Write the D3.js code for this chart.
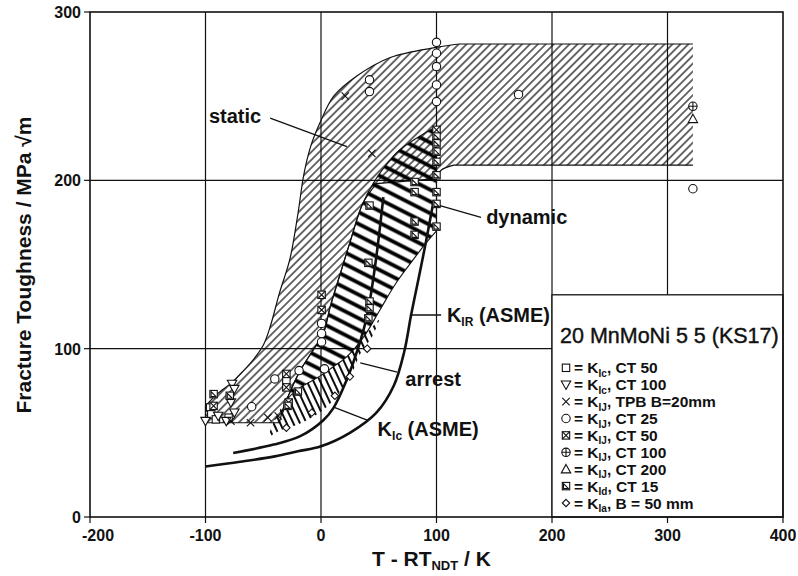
<!DOCTYPE html>
<html>
<head>
<meta charset="utf-8">
<title>20 MnMoNi 5 5 (KS17)</title>
<script src="https://cdn.jsdelivr.net/npm/d3@7"></script>
<style>
  body { margin: 0; background: #fff; }
  svg { font-family: 'Liberation Sans', Arial, Helvetica, sans-serif; }
  .grid { stroke: #111; stroke-width: 1.2; }
  .tick-label { font-size: 16px; font-weight: bold; fill: #111; }
  .ann { font-size: 20px; font-weight: bold; fill: #111; }
  .leader { stroke: #111; stroke-width: 1.3; }
  .mk { fill: #fff; stroke: #111; stroke-width: 1.1; }
  .kcurve { fill: none; stroke: #111; stroke-width: 2.6; }
  .edge { fill: none; stroke: #111; stroke-width: 1.2; }
</style>
</head>
<body>
<svg id="chart" width="798" height="576"></svg>
<script>
// axes
const xTicks = [-200, -100, 0, 100, 200, 300, 400];
const yTicks = [0, 100, 200, 300];

// static scatter band (T - RTndt, K)
const staticUpper = [[-100, 66], [-90, 73], [-77, 80], [-67, 87], [-58, 94], [-50, 102], [-44, 113],
  [-36, 133], [-27, 153], [-20, 180], [-15, 203], [-9, 220], [-1, 234], [11, 250], [31, 262], [60, 273],
  [100, 279], [120, 281]];
const staticTop = [[120, 281], [322, 281]];
const staticEnd = [[322, 281], [322, 209]];
const staticBottom = [[322, 209], [115, 209]];
const staticKnee = [[115, 209], [104, 206], [100, 201]];
const staticInner = [[48, 198], [36, 186], [25, 163], [16, 143], [8, 125], [2, 109], [-7, 99], [-18, 87],
  [-27, 74], [-33, 64], [-36, 56]];
const staticBase = [[-36, 56], [-100, 56]];

// dynamic band
const dynLeft = [[-33, 62], [-27, 74], [-18, 87], [-7, 99], [2, 109], [8, 125], [16, 143], [25, 163], [36, 186],
  [45, 198], [55, 208], [68, 218], [85, 226], [100, 232]];
const dynRight = [[100, 170], [90, 162], [80, 153], [65, 139], [51, 123], [37, 107], [22, 95],
  [10, 89], [2, 85], [-10, 80], [-18, 77], [-30, 69], [-33, 62]];

// arrest band
const arrestInner = [[51, 118], [37, 107], [22, 95], [10, 89], [2, 85], [-10, 80], [-18, 77], [-30, 69], [-40, 58], [-46, 47]];
const arrestOuter = [[-46, 47], [-35, 51.5], [-20, 55], [-7, 59.5], [8, 67.5], [25, 83], [34, 97], [45, 108], [51, 118]];

// ASME reference curves
const kirCurve = [[-100, 30], [-70, 32.8], [-40, 36], [-20, 39], [0, 42], [25, 50], [48, 62], [63, 78], [72, 98],
  [78, 120], [84, 140], [91, 164], [97, 186]];
const kicCurve = [[-76, 38], [-41, 43], [-18, 48], [2, 57.5], [11, 65], [22, 81], [32, 100], [40, 120], [47, 150], [54, 190]];

// measured points
const ptsKIcCT50 = [[-96, 65], [-95, 61], [-91, 58], [-80, 59], [-30, 81]];
const ptsKIcCT100 = [[-100, 57], [-77, 79], [-75, 76], [-75, 62], [-89, 60], [-78, 68], [-82, 57]];
const ptsKIJTPB = [[21, 250], [44, 216], [-61, 56], [-46, 59], [-37, 60], [-78, 57]];
const ptsKIJCT25 = [[100, 282], [100, 275.5], [100, 267.6], [100, 256.7], [100, 246.8], [42, 259.7], [42, 252.7],
  [171, 251], [322, 195], [-60, 65.5], [-40, 82], [0.5, 115], [0.5, 109], [0.5, 104], [-19, 87], [3, 88]];
const ptsKIJCT50 = [[100, 230], [-30, 85], [-30, 77], [-28, 68], [0.5, 132], [0.5, 123], [-93, 66]];
const ptsKIJCT100 = [[322, 244]];
const ptsKIJCT200 = [[322, 236.5]];
const ptsKIdCT15 = [[100, 226], [100, 222], [100, 217], [100, 211], [100, 203], [100, 193], [100, 186], [100, 172.5],
  [81, 199], [81, 193], [81, 175.5], [81, 167.6], [42, 185], [41, 151], [42, 128], [42, 124], [41, 118],
  [-93, 73], [-79, 72], [-20, 74.5], [-29, 66]];
const ptsKIaB50 = [[25, 83.4], [40, 100], [-8, 62], [-30, 53], [12, 72]];

// legend
const legendTypes = ['sq', 'tridown', 'x', 'circ', 'sqx', 'circplus', 'tri', 'sqtri', 'diam'];
const legendSubs = ['Ic', 'Ic', 'IJ', 'IJ', 'IJ', 'IJ', 'IJ', 'Id', 'Ia'];
const legendRest = [', CT 50', ', CT 100', ', TPB B=20mm', ', CT 25', ', CT 50', ', CT 100', ', CT 200', ', CT 15', ', B = 50 mm'];

// annotations
const annLabels = [['static', '', ''], ['dynamic', '', ''], ['K', 'IR', ' (ASME)'], ['arrest', '', ''], ['K', 'Ic', ' (ASME)']];
const annAt = [[-97, 234], [143, 174], [109, 116], [73, 78], [49, 48]];
const annLeader = [[[-44, 237], [22.5, 220]], [[103, 185], [138.5, 178]], [[77, 120], [104, 120]],
  [[34, 91.5], [66, 86]], [[10.4, 65.4], [40, 57.6]]];

const svg = d3.select('#chart');
const x = d3.scaleLinear().domain([-200, 400]).range([90, 783]);
const y = d3.scaleLinear().domain([0, 300]).range([517, 12]);

const defs = svg.append('defs');
function hatch(id, sp, w, angle, horizontal) {
  const p = defs.append('pattern').attr('id', id).attr('patternUnits', 'userSpaceOnUse')
    .attr('width', sp).attr('height', sp).attr('patternTransform', `rotate(${angle})`);
  if (horizontal) p.append('line').attr('x1', 0).attr('x2', sp).attr('y1', sp / 2).attr('y2', sp / 2);
  else p.append('line').attr('y1', 0).attr('y2', sp).attr('x1', sp / 2).attr('x2', sp / 2);
  p.select('line').attr('stroke', '#000').attr('stroke-width', w);
}
hatch('hStatic', 5.6, 1.15, 45, false);
hatch('hDyn', 10.5, 3.8, 27, true);
hatch('hArrest', 6, 1.9, -25, false);

// grid
svg.append('g').selectAll('line').data(xTicks.slice(1, -1)).join('line').attr('class', 'grid')
  .attr('x1', d => x(d)).attr('x2', d => x(d)).attr('y1', y(300)).attr('y2', y(0));
svg.append('g').selectAll('line').data(yTicks.slice(1, -1)).join('line').attr('class', 'grid')
  .attr('y1', d => y(d)).attr('y2', d => y(d)).attr('x1', x(-200)).attr('x2', x(400));

const smooth = d3.line().x(d => x(d[0])).y(d => y(d[1])).curve(d3.curveCatmullRom.alpha(0.5));
const straight = d3.line().x(d => x(d[0])).y(d => y(d[1]));
// chain pieces: pieces with 2 points are straight, longer ones smooth
function chain(pieces, close) {
  const d = pieces.map((pc, i) => {
    const s = (pc.length > 2 ? smooth : straight)(pc);
    return i > 0 ? 'L' + s.slice(1) : s;
  }).join('');
  return close ? d + 'Z' : d;
}

// static band
svg.append('path')
  .attr('d', chain([staticUpper, staticTop, staticEnd, staticBottom, staticKnee, staticInner, staticBase], true))
  .attr('fill', 'url(#hStatic)');
svg.append('path').attr('class', 'edge').attr('d', chain([staticUpper, staticTop]));
svg.append('path').attr('class', 'edge')
  .attr('d', chain([staticBottom, staticKnee, staticInner, staticBase, [staticBase[1], staticUpper[0]]]));

// dynamic band
svg.append('path').attr('d', chain([dynLeft, [dynLeft[dynLeft.length - 1], dynRight[0]], dynRight], true))
  .attr('fill', 'url(#hDyn)').attr('stroke', '#111').attr('stroke-width', 1.1);

// arrest band
svg.append('path').attr('d', chain([arrestInner, arrestOuter], true)).attr('fill', 'url(#hArrest)');

// ASME curves
svg.append('path').attr('class', 'kcurve').attr('d', smooth(kirCurve));
svg.append('path').attr('class', 'kcurve').attr('d', smooth(kicCurve));

// markers
function addMarker(g, type) {
  const h = 3.7;
  if (type === 'sq' || type === 'sqx' || type === 'sqtri')
    g.append('rect').attr('class', 'mk').attr('x', -h).attr('y', -h).attr('width', 2 * h).attr('height', 2 * h);
  if (type === 'circ' || type === 'circplus') g.append('circle').attr('class', 'mk').attr('r', 4.2);
  if (type === 'tri') g.append('path').attr('class', 'mk').attr('d', `M0,${-h - 1}L${h + 1},${h}L${-h - 1},${h}Z`);
  if (type === 'tridown') g.append('path').attr('class', 'mk').attr('d', `M0,${h + 1}L${h + 1},${-h}L${-h - 1},${-h}Z`);
  if (type === 'diam') g.append('path').attr('class', 'mk').attr('d', `M0,${-h}L${h},0L0,${h}L${-h},0Z`);
  if (type === 'x' || type === 'sqx')
    g.append('path').attr('class', 'mk').attr('d', `M${-h},${-h}L${h},${h}M${h},${-h}L${-h},${h}`);
  if (type === 'circplus') g.append('path').attr('class', 'mk').attr('d', `M-4.2,0H4.2M0,-4.2V4.2`);
  if (type === 'sqtri') g.append('path').attr('class', 'mk').attr('d', `M${-h + 1.2},${h - 1.2}L${-h + 1.2},${-h + 1.2}L${h - 1.2},${h - 1.2}Z`);
}
const series = [[ptsKIcCT50, 'sq'], [ptsKIcCT100, 'tridown'], [ptsKIJTPB, 'x'], [ptsKIJCT25, 'circ'],
  [ptsKIJCT50, 'sqx'], [ptsKIJCT100, 'circplus'], [ptsKIJCT200, 'tri'], [ptsKIdCT15, 'sqtri'], [ptsKIaB50, 'diam']];
series.forEach(([pts, type]) => {
  svg.append('g').selectAll('g').data(pts).join('g')
    .attr('transform', d => `translate(${x(d[0])},${y(d[1])})`)
    .each(function () { addMarker(d3.select(this), type); });
});

// legend box
const lg = svg.append('g');
lg.append('rect').attr('x', x(200)).attr('y', y(132)).attr('width', x(400) - x(200)).attr('height', y(0) - y(132))
  .attr('fill', '#fff').attr('stroke', '#111').attr('stroke-width', 1.3);
lg.append('text').attr('x', x(200) + 8).attr('y', y(132) + 48).attr('font-size', 21.5).attr('fill', '#111')
  .attr('stroke', '#111').attr('stroke-width', 0.4).text('20 MnMoNi 5 5 (KS17)');
legendTypes.forEach((t, i) => {
  const cy = y(132) + 73 + i * 16.9;
  const mg = lg.append('g').attr('transform', `translate(${x(200) + 14},${cy})`);
  addMarker(mg, t);
  const tx = lg.append('text').attr('x', x(200) + 22).attr('y', cy + 5.5)
    .attr('font-size', 15.5).attr('font-weight', 'bold').attr('fill', '#111');
  tx.append('tspan').text('= K');
  tx.append('tspan').attr('font-size', 10).attr('dy', 3.5).text(legendSubs[i]);
  tx.append('tspan').attr('dy', -3.5).text(legendRest[i]);
});

// annotations
annLabels.forEach((t, i) => {
  svg.append('line').attr('class', 'leader')
    .attr('x1', x(annLeader[i][0][0])).attr('y1', y(annLeader[i][0][1]))
    .attr('x2', x(annLeader[i][1][0])).attr('y2', y(annLeader[i][1][1]));
  const tx = svg.append('text').attr('class', 'ann').attr('x', x(annAt[i][0])).attr('y', y(annAt[i][1]));
  tx.append('tspan').text(t[0]);
  if (t[1]) {
    tx.append('tspan').attr('font-size', 12).attr('dy', 4).text(t[1]);
    tx.append('tspan').attr('dy', -4).text(t[2]);
  }
});

// frame and ticks
svg.append('rect').attr('x', x(-200)).attr('y', y(300)).attr('width', x(400) - x(-200)).attr('height', y(0) - y(300))
  .attr('fill', 'none').attr('stroke', '#111').attr('stroke-width', 1.6);
svg.append('g').selectAll('line').data(xTicks).join('line').attr('class', 'grid')
  .attr('x1', d => x(d)).attr('x2', d => x(d)).attr('y1', y(0)).attr('y2', y(0) + 6);
svg.append('g').selectAll('line').data(yTicks).join('line').attr('class', 'grid')
  .attr('y1', d => y(d)).attr('y2', d => y(d)).attr('x1', x(-200) - 6).attr('x2', x(-200));
svg.append('g').selectAll('text').data(xTicks).join('text').attr('class', 'tick-label')
  .attr('x', (d, i) => i === 0 ? x(d) - 8 : x(d)).attr('y', y(0) + 24)
  .attr('text-anchor', (d, i) => i === 0 ? 'start' : 'middle').text(d => d);
svg.append('g').selectAll('text').data(yTicks).join('text').attr('class', 'tick-label')
  .attr('x', x(-200) - 9).attr('y', d => y(d) + 6).attr('text-anchor', 'end').text(d => d);

// axis titles
const xt = svg.append('text').attr('x', 372).attr('y', 566).attr('font-size', 21).attr('font-weight', 'bold').attr('fill', '#111');
xt.append('tspan').text('T - RT');
xt.append('tspan').attr('font-size', 13).attr('dy', 4).text('NDT');
xt.append('tspan').attr('dy', -4).text(' / K');
svg.append('text').attr('transform', 'translate(31,265) rotate(-90)').attr('text-anchor', 'middle')
  .attr('font-size', 21).attr('font-weight', 'bold').attr('fill', '#111').text('Fracture Toughness / MPa \u221Am');
</script>
</body>
</html>
